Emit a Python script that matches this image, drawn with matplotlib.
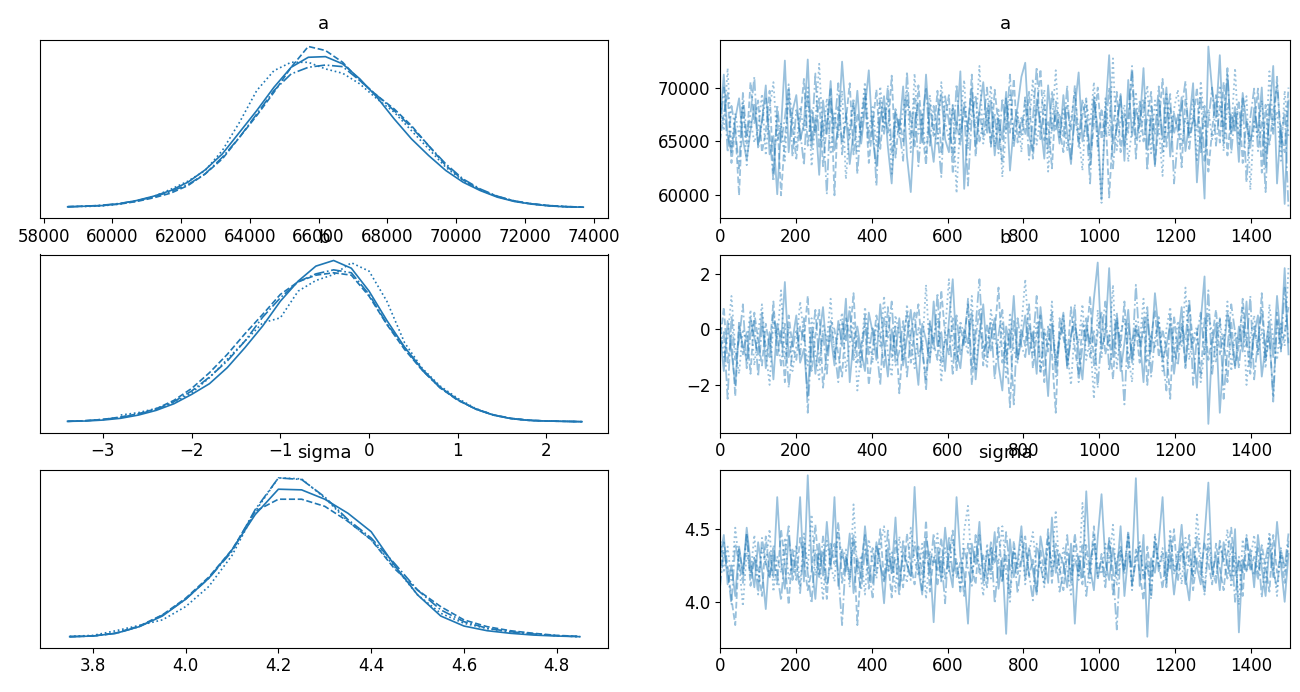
import numpy as np
import matplotlib
matplotlib.use("Agg")
import matplotlib.pyplot as plt

# ---------------- data ----------------
var_names = ["a", "b", "sigma"]
chain_styles = ["-", "--", ":", "-."]

# KDE curves (relative density, % of panel max)
a_grid = [58700, 59200, 59700, 60200, 60700, 61200, 61700, 62200, 62700, 63200,
          63700, 64200, 64700, 65200, 65700, 66200, 66700, 67200, 67700, 68200,
          68700, 69200, 69700, 70200, 70700, 71200, 71700, 72200, 72700, 73200, 73700]
a_kde_1 = [0.2, 0.6, 1.0, 2.1, 4.1, 6.8, 10.3, 15.5, 23.1, 33.0, 46.4, 59.8, 74.2, 86.6, 92.8, 93.2,
           88.7, 79.4, 68.0, 54.6, 42.3, 32.0, 22.7, 15.5, 10.3, 6.2, 3.5, 1.9, 0.8, 0.2, 0.0]
a_kde_2 = [0.4, 0.6, 1.0, 1.9, 3.5, 5.8, 8.7, 13.4, 20.6, 29.9, 43.3, 56.7, 71.1, 86.6, 99.5, 97.0,
           89.7, 78.4, 69.1, 60.8, 50.5, 38.1, 25.8, 16.9, 10.7, 6.6, 3.7, 2.1, 1.0, 0.4, 0.0]
a_kde_3 = [np.nan, 0.4, 0.8, 1.9, 3.7, 6.6, 11.1, 16.1, 22.7, 35.1, 52.6, 72.2, 84.5, 89.7, 89.7, 85.6,
           82.9, 76.3, 67.0, 58.8, 47.4, 36.1, 24.7, 16.5, 10.7, 6.6, 3.7, 1.9, 0.8, 0.2, 0.0]
a_kde_4 = [0.2, 0.6, 1.2, 2.3, 3.9, 6.4, 9.7, 14.0, 20.6, 30.9, 43.3, 57.7, 72.2, 82.5, 86.6, 88.0,
           87.0, 78.4, 69.1, 59.8, 49.5, 38.1, 26.8, 17.5, 11.3, 6.8, 3.9, 2.1, 1.0, 0.4, 0.0]

b_grid = [-3.4, -3.2, -3.0, -2.8, -2.6, -2.4, -2.2, -2.0, -1.8, -1.6, -1.4, -1.2, -1.0, -0.8, -0.6,
          -0.4, -0.2, 0.0, 0.2, 0.4, 0.6, 0.8, 1.0, 1.2, 1.4, 1.6, 1.8, 2.0, 2.2, 2.4]
b_kde_1 = [0.2, 0.4, 1.0, 2.1, 4.1, 7.0, 11.1, 16.9, 23.5, 33.4, 45.8, 59.2, 74.6, 87.0, 96.3,
           99.8, 95.0, 80.8, 62.7, 46.2, 32.4, 21.4, 13.6, 7.8, 4.1, 1.9, 0.8, 0.4, 0.2, 0.0]
b_kde_2 = [0.2, 0.6, 1.4, 2.9, 4.9, 8.0, 13.2, 20.6, 30.3, 41.6, 54.4, 66.4, 78.8, 86.6, 90.7,
           92.2, 90.7, 77.7, 60.2, 44.7, 31.8, 21.0, 13.2, 8.0, 4.3, 2.1, 1.0, 0.4, 0.2, 0.0]
b_kde_3 = [np.nan, np.nan, np.nan, 4.1, 5.6, 8.2, 11.8, 17.9, 27.2, 38.6, 49.9, 61.2, 64.3, 80.8, 87.4,
           91.1, 98.4, 93.2, 74.6, 48.9, 33.0, 22.1, 14.4, 8.2, 4.1, 1.9, 0.8, 0.4, 0.2, 0.0]
b_kde_4 = [0.2, 0.6, 1.4, 2.7, 4.7, 7.6, 12.4, 19.0, 27.6, 37.5, 49.9, 64.7, 76.7, 86.6, 91.5,
           94.0, 92.2, 78.8, 60.6, 45.8, 31.8, 21.0, 13.6, 7.8, 4.1, 1.9, 0.8, 0.4, 0.2, 0.0]

s_grid = [3.75, 3.80, 3.85, 3.90, 3.95, 4.00, 4.05, 4.10, 4.15, 4.20, 4.25, 4.30, 4.35, 4.40, 4.45,
          4.50, 4.55, 4.60, 4.65, 4.70, 4.75, 4.80, 4.85]
s_kde_1 = [0.0, 0.4, 2.1, 6.2, 12.8, 23.2, 36.2, 53.8, 75.6, 91.3, 90.9, 85.1, 76.4, 65.0, 44.3,
           25.9, 12.8, 6.6, 3.7, 2.1, 1.0, 0.4, 0.0]
s_kde_2 = [0.0, 0.4, 2.3, 6.6, 13.5, 23.8, 36.9, 53.8, 77.6, 85.1, 85.1, 80.7, 71.4, 60.0, 42.2,
           28.9, 18.6, 10.4, 6.2, 3.7, 2.1, 0.8, 0.2]
s_kde_3 = [0.2, 0.8, 3.7, 7.0, 10.4, 18.6, 31.1, 50.3, 77.6, 98.3, 97.7, 85.9, 71.4, 60.0, 43.5,
           25.9, 14.5, 8.3, 5.0, 2.9, 1.7, 0.6, 0.0]
s_kde_4 = [0.0, 0.4, 2.1, 6.2, 13.3, 23.2, 36.2, 52.8, 78.7, 98.3, 97.3, 86.5, 72.5, 61.1, 45.5,
           28.9, 16.6, 9.3, 5.2, 3.1, 1.7, 0.6, 0.0]

# Trace samples (thinned)
# a in hundreds, b in tenths, sigma in hundredths
a_tr_1 = [668, 712, 655, 640, 671, 690, 652, 633, 660, 684, 647, 669, 702, 638, 655, 601, 662, 725, 640, 678,
          693, 651, 666, 726, 644, 672, 619, 688, 657, 706, 642, 663, 724, 675, 629, 659, 697, 648, 681, 716,
          654, 627, 670, 692, 645, 611, 677, 660, 701, 636, 603, 668, 685, 649, 712, 658, 631, 674, 694, 652,
          640, 683, 662, 715, 606, 667, 699, 645, 679, 705, 658, 688, 637, 671, 652, 696, 623, 664, 682, 710,
          723, 655, 641, 689, 667, 634, 702, 660, 676, 648, 693, 657, 629, 681, 714, 650, 670, 639, 688, 663,
          596, 675, 730, 648, 661, 694, 632, 707, 655, 680, 664, 718, 642, 671, 627, 689, 653, 700, 636, 676,
          659, 691, 641, 668, 704, 612, 663, 597, 738, 697, 672, 730, 648, 712, 657, 682, 631, 695, 666, 644,
          681, 658, 700, 626, 673, 720, 611, 665, 592, 688]
a_tr_2 = [651, 676, 695, 630, 662, 600, 683, 648, 705, 667, 688, 640, 659, 697, 620, 674, 600, 653, 691, 662,
          634, 670, 708, 646, 679, 657, 690, 627, 666, 700, 600, 682, 650, 669, 704, 638, 676, 656, 692, 630,
          665, 698, 643, 681, 658, 711, 635, 672, 650, 689, 675, 644, 702, 661, 628, 684, 655, 697, 640, 670,
          693, 620, 668, 647, 686, 659, 712, 636, 677, 654, 681, 645, 698, 664, 630, 690, 658, 708, 649, 672,
          656, 696, 634, 677, 717, 651, 668, 625, 687, 662, 640, 683, 660, 702, 645, 674, 690, 628, 666, 700,
          652, 679, 598, 661, 696, 640, 676, 658, 715, 634, 687, 650, 672, 696, 629, 666, 708, 645, 681, 657,
          675, 626, 690, 655, 668, 700, 640, 683, 622, 661, 693, 649, 705, 637, 676, 660, 688, 630, 670, 651,
          664, 699, 621, 684, 647, 676, 704, 657, 640, 700]
a_tr_3 = [690, 660, 718, 645, 676, 655, 688, 628, 670, 649, 661, 694, 637, 680, 705, 650, 667, 632, 698, 674,
          645, 682, 659, 700, 627, 668, 722, 651, 690, 638, 676, 653, 697, 615, 664, 686, 641, 672, 705, 657,
          682, 646, 701, 663, 690, 620, 668, 654, 680, 697, 640, 713, 657, 675, 636, 693, 661, 646, 705, 668,
          652, 684, 602, 672, 707, 643, 690, 662, 720, 648, 669, 702, 645, 681, 617, 660, 693, 650, 677, 640,
          688, 662, 708, 647, 675, 698, 622, 666, 716, 652, 680, 641, 671, 696, 658, 623, 687, 664, 705, 648,
          593, 690, 655, 727, 642, 670, 684, 631, 662, 696, 650, 677, 702, 639, 688, 663, 618, 694, 657, 680,
          698, 645, 672, 658, 690, 631, 706, 664, 680, 652, 668, 702, 641, 685, 659, 718, 646, 675, 692, 605,
          670, 653, 688, 640, 715, 662, 678, 632, 697, 655]
a_tr_4 = [659, 700, 640, 683, 662, 625, 695, 654, 676, 710, 643, 668, 690, 657, 613, 684, 648, 672, 703, 636,
          679, 660, 628, 694, 651, 713, 645, 670, 601, 687, 662, 704, 638, 676, 653, 690, 620, 668, 698, 647,
          673, 609, 688, 657, 702, 640, 680, 662, 632, 715, 655, 690, 627, 671, 700, 646, 683, 659, 617, 692,
          668, 637, 703, 655, 681, 609, 674, 693, 650, 667, 700, 648, 676, 639, 690, 661, 712, 645, 673, 656,
          691, 633, 670, 719, 652, 684, 640, 697, 661, 676, 655, 702, 632, 674, 650, 689, 667, 611, 693, 645,
          679, 657, 700, 625, 668, 692, 646, 675, 720, 651, 666, 690, 623, 683, 657, 701, 640, 670, 694, 611,
          652, 681, 706, 643, 675, 660, 694, 632, 669, 700, 646, 683, 664, 718, 639, 677, 655, 690, 612, 672,
          699, 641, 668, 603, 686, 657, 710, 646, 679, 587]

b_tr_1 = [-2, -15, 3, -8, -20, 1, -6, -11, 4, -3, -9, 6, -14, -1, -18, 2, -5, 17, -10, -4,
          5, -12, -7, -24, 0, -16, -3, 8, -9, -2, -13, 3, -6, 11, -19, -4, 1, -8, -15, 6,
          -1, -11, 9, -5, -17, 0, -9, 4, -13, -3, 7, -7, -20, 2, -4, -12, 10, -6, -1, -15,
          3, 18, -8, -14, 0, -5, 6, -18, -2, 9, -10, -3, 4, -13, -22, 1, -7, 12, -11, -4,
          5, -9, -1, -16, 8, -6, -24, 2, -12, -3, 6, -14, -2, 3, -8, -18, 1, -5, 11, 24,
          -7, -2, 22, -10, 4, -15, -5, 7, -12, 0, -3, -19, 5, -8, 13, -1, -11, -6, 2, -16,
          -4, 8, -13, 0, -7, -21, 3, 19, -34, -5, 2, -30, -9, 6, -3, -14, 1, -8, 10, -12,
          -2, 5, -17, -6, 3, -10, 12, -4, 22, -9]
b_tr_2 = [-5, 8, -12, -2, -24, 3, -9, -1, -16, 6, -4, -13, 2, -7, 10, -10, 0, -19, 5, -6,
          -11, 1, -4, 12, -15, -2, 7, -21, -8, 3, 0, -9, -17, 4, -3, 13, -12, -6, 2, -20,
          -7, 5, -2, -14, 8, -10, 1, -23, -4, 6, -12, 0, 9, -8, -18, 3, -5, -11, 14, -2,
          -9, 4, -15, 1, -6, 11, -20, -3, 7, -13, 2, -8, -1, 15, -12, -5, -28, 3, -10, 0,
          -6, 9, -14, -2, 5, -19, 1, -9, -30, 4, -3, -11, 8, -7, -16, 2, -4, 12, -13, -1,
          6, -9, -2, -18, 3, -6, 10, -14, -4, 1, -12, 4, -20, -3, 7, -10, 0, -7, -25, 5,
          -8, 2, -14, 9, -5, -1, -17, 4, -11, -3, 7, -9, -2, -19, 3, -13, -6, 11, -4, -16,
          1, -8, 13, -11, -3, -24, 6, -7, -1, 8]
b_tr_3 = [4, -10, -3, 12, -7, -16, 0, -5, 7, -13, -1, 9, -8, -20, 3, -4, 14, -11, 1, -15,
          -6, 10, -2, -13, 4, -9, -18, 2, -4, 11, -10, -1, 6, -15, -5, 3, -22, -8, 8, -3,
          -12, 2, -6, 12, -9, -17, 5, -2, -11, 9, -4, -14, 1, -7, 16, -10, -3, 4, -19, -1,
          18, -6, -12, 3, -2, -9, 12, -15, 0, -5, -14, 7, -3, -10, 2, -18, 6, -7, -12, 1,
          18, -4, -9, 3, -16, 0, -6, 10, -13, -2, 5, -8, -20, 1, -5, 9, -11, -3, -25, 7,
          -10, 2, -6, 16, -14, -1, 4, -9, -19, 3, -5, 11, -12, -2, -7, 5, -15, 0, 8, -10,
          3, -6, 15, -11, -3, 1, -19, -8, 6, -2, -12, 4, -7, 10, -15, -1, -5, 8, -20, -3,
          5, -9, 0, -14, 9, -4, -11, 2, -6, 22]
b_tr_4 = [-8, -1, -25, 5, -11, -4, 9, -14, -2, 3, -17, 1, -6, -10, 6, -3, -13, 2, -21, -7,
          0, -9, 4, -30, -5, 7, -12, -1, -16, 2, -7, -19, 3, -4, 8, -11, -2, -14, 5, -9,
          1, -6, -20, 4, -3, 10, -13, -8, 3, -17, -2, 6, -10, -5, -22, 2, -7, 13, -12, -4,
          0, -16, 5, -9, -3, 9, -14, 1, 18, -8, -5, 3, -18, -2, 7, -11, 0, -27, 4, -6,
          -10, 2, -5, 12, -15, -1, -8, 6, -17, -4, 1, -13, -3, 9, -19, -6, 4, -10, 0, -21,
          -2, 10, -15, -4, 6, -8, -27, 2, -11, 16, -6, -1, 8, -17, -3, 3, -10, -22, 5, -7,
          -13, 1, -4, 11, -20, -2, 6, -9, 14, -16, -3, 4, -25, -7, 9, -1, -14, 2, -6, 12,
          -18, -4, 7, -10, -1, -26, 3, -8, 15, -5]

s_tr_1 = [430, 446, 412, 425, 404, 438, 419, 451, 427, 410, 441, 422, 395, 434, 417, 472, 428, 409, 445, 420,
          433, 472, 414, 487, 426, 402, 440, 418, 455, 423, 472, 411, 436, 421, 447, 406, 430, 416, 452, 425,
          413, 441, 428, 399, 437, 420, 458, 411, 434, 426, 418, 479, 422, 405, 444, 429, 386, 437, 415, 451,
          424, 410, 472, 431, 419, 385, 440, 426, 455, 413, 435, 421, 448, 409, 430, 378, 443, 417, 428, 452,
          416, 437, 422, 405, 445, 429, 413, 458, 420, 433, 426, 410, 440, 385, 431, 417, 476, 423, 408, 444,
          474, 428, 415, 437, 419, 452, 404, 433, 424, 485, 411, 446, 376, 430, 420, 441, 472, 415, 434, 405,
          428, 453, 418, 401, 437, 424, 412, 445, 482, 419, 432, 408, 441, 425, 416, 450, 379, 429, 421, 436,
          410, 446, 423, 404, 438, 417, 455, 426, 400, 433]
s_tr_2 = [418, 441, 425, 402, 384, 436, 420, 447, 411, 430, 423, 404, 445, 417, 432, 412, 450, 426, 398, 437,
          415, 444, 428, 408, 421, 453, 419, 434, 402, 440, 426, 455, 413, 431, 418, 441, 384, 427, 446, 409,
          437, 420, 450, 414, 429, 403, 442, 423, 410, 447, 425, 412, 438, 419, 456, 407, 431, 422, 444, 416,
          432, 449, 417, 427, 404, 440, 424, 412, 446, 421, 410, 438, 426, 451, 415, 433, 405, 442, 419, 430,
          445, 418, 429, 407, 436, 421, 450, 413, 440, 424, 408, 434, 419, 447, 426, 412, 439, 420, 452, 415,
          433, 417, 444, 405, 428, 438, 422, 449, 411, 436, 420, 401, 438, 416, 445, 427, 409, 434, 423, 450,
          414, 437, 425, 446, 408, 430, 419, 441, 427, 412, 440, 423, 408, 433, 451, 418, 428, 404, 444, 421,
          431, 415, 439, 424, 407, 446, 420, 432, 413, 442]
s_tr_3 = [445, 420, 438, 415, 451, 427, 397, 434, 419, 446, 413, 437, 425, 450, 407, 431, 420, 444, 416, 428,
          439, 411, 447, 423, 460, 418, 433, 401, 442, 426, 414, 449, 429, 436, 410, 467, 421, 432, 405, 443,
          427, 416, 439, 452, 420, 434, 407, 445, 424, 413, 451, 429, 418, 440, 402, 435, 426, 447, 414, 437,
          421, 443, 428, 410, 449, 466, 419, 433, 425, 404, 440, 416, 435, 427, 452, 420, 400, 438, 423, 445,
          412, 434, 448, 420, 429, 410, 441, 426, 463, 418, 437, 422, 405, 443, 415, 468, 428, 413, 446, 424,
          419, 440, 427, 453, 411, 435, 422, 446, 408, 432, 441, 418, 429, 405, 447, 424, 437, 413, 450, 420,
          435, 412, 444, 426, 418, 460, 431, 407, 448, 423, 416, 439, 427, 450, 410, 434, 398, 443, 422, 429,
          446, 419, 433, 412, 448, 426, 404, 437, 421, 440]
s_tr_4 = [410, 435, 421, 398, 440, 426, 413, 447, 418, 431, 405, 444, 427, 416, 439, 420, 401, 433, 452, 415,
          428, 406, 441, 420, 399, 436, 417, 445, 411, 427, 440, 419, 384, 431, 415, 447, 422, 408, 436, 421,
          403, 438, 425, 414, 449, 419, 430, 404, 443, 426, 415, 441, 428, 408, 435, 420, 447, 412, 431, 399,
          445, 418, 429, 407, 438, 423, 411, 446, 420, 432, 416, 441, 399, 427, 413, 448, 422, 434, 406, 428,
          437, 419, 401, 440, 425, 412, 445, 421, 432, 407, 420, 446, 413, 430, 418, 439, 404, 427, 441, 417,
          429, 410, 443, 422, 381, 435, 419, 447, 412, 428, 438, 416, 426, 402, 442, 421, 433, 410, 445, 419,
          427, 440, 411, 432, 417, 446, 424, 405, 438, 421, 413, 442, 428, 416, 440, 400, 431, 419, 446, 425,
          418, 437, 403, 429, 444, 421, 410, 436, 424, 447]

kde_grids = [a_grid, b_grid, s_grid]
kde_sets = [[a_kde_1, a_kde_2, a_kde_3, a_kde_4],
            [b_kde_1, b_kde_2, b_kde_3, b_kde_4],
            [s_kde_1, s_kde_2, s_kde_3, s_kde_4]]
trace_sets = [[np.array(c) * 100.0 for c in (a_tr_1, a_tr_2, a_tr_3, a_tr_4)],
              [np.array(c) / 10.0 for c in (b_tr_1, b_tr_2, b_tr_3, b_tr_4)],
              [np.array(c) / 100.0 for c in (s_tr_1, s_tr_2, s_tr_3, s_tr_4)]]

left_xticks = [list(range(58000, 74001, 2000)), [-3, -2, -1, 0, 1, 2], [3.8, 4.0, 4.2, 4.4, 4.6, 4.8]]
right_yticks = [[60000, 65000, 70000], [-2, 0, 2], [4.0, 4.5]]
right_xticks = [0, 200, 400, 600, 800, 1000, 1200, 1400]
value_limits = [(57895, 74410), (-3.71, 2.69), (3.686, 4.91)]

# ---------------- plot ----------------
W, H = 1300, 692
fig = plt.figure(figsize=(W / 100, H / 100), dpi=100)
color = "#1f77b4"

tops = [40, 254.5, 469.5]
ax_h = 178
left_x0, left_w = 40, 567.7
right_x0, right_w = 720, 570

for r, name in enumerate(var_names):
    bottom = 1 - (tops[r] + ax_h) / H
    axl = fig.add_axes([left_x0 / W, bottom, left_w / W, ax_h / H])
    axr = fig.add_axes([right_x0 / W, bottom, right_w / W, ax_h / H])

    grid = kde_grids[r]
    for kde, ls in zip(kde_sets[r], chain_styles):
        axl.plot(grid, kde, color=color, ls=ls, lw=1.2)
    axl.set_xlim(*value_limits[r])
    axl.set_ylim(-6.7, 103.5)
    axl.set_yticks([])
    axl.set_xticks(left_xticks[r])
    axl.tick_params(labelsize=12)
    axl.set_title(name, fontsize=13, pad=8)

    for tr, ls in zip(trace_sets[r], chain_styles):
        draws = np.linspace(0, 1499, len(tr))
        axr.plot(draws, tr, color=color, ls=ls, lw=1.3, alpha=0.45)
    axr.set_xlim(0, 1503)
    axr.set_ylim(*value_limits[r])
    axr.set_yticks(right_yticks[r])
    axr.set_xticks(right_xticks)
    axr.tick_params(labelsize=12)
    axr.set_title(name, fontsize=13, pad=8)

fig.savefig("out.png", dpi=100)
